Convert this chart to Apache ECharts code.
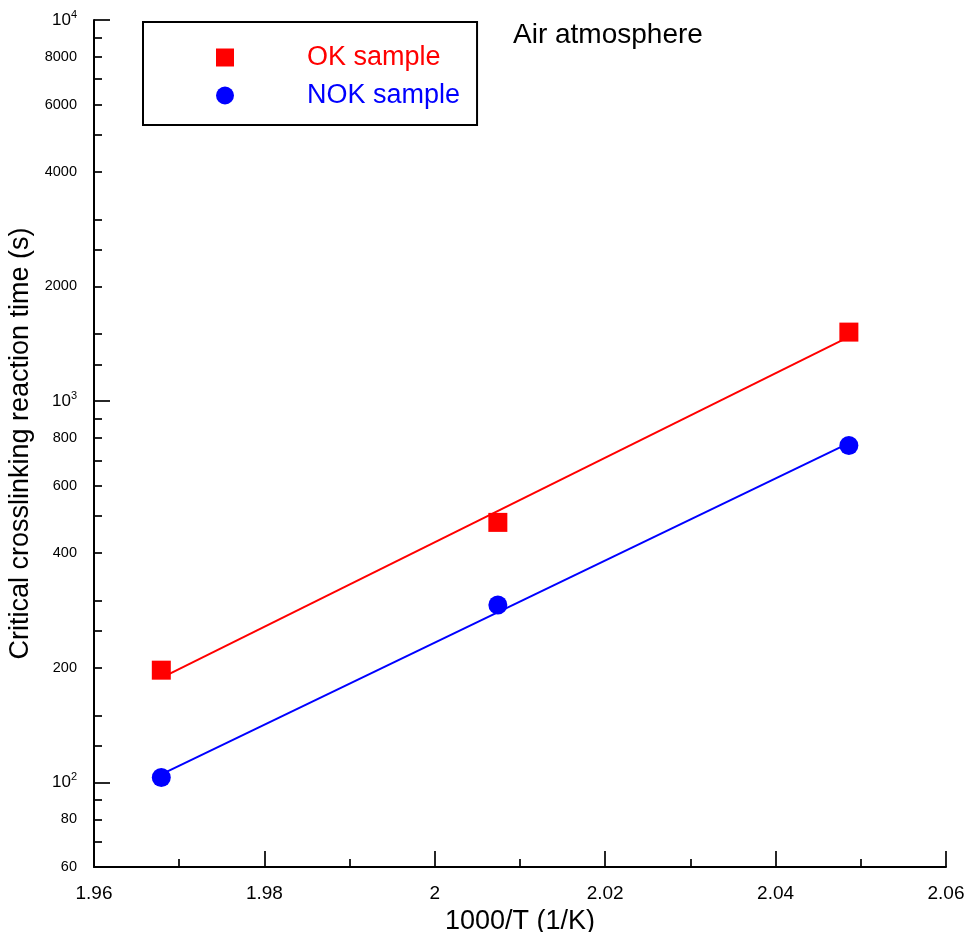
<!DOCTYPE html>
<html><head><meta charset="utf-8">
<script src="https://cdn.jsdelivr.net/npm/echarts@6/dist/echarts.min.js"></script>
<style>html,body{margin:0;padding:0;background:#fff}#c{width:966px;height:932px}</style>
</head><body><div id="c"></div>
<script>
// ---- data ----
const invT = [1.9679, 2.0074, 2.0486];
const okTime = [197, 481, 1518];
const nokTime = [103, 292, 765];
const fitInvT = [1.9679, 2.0486];
const okFit = [188, 1475];
const nokFit = [105, 776];
const yLabelValues = [60, 80, 100, 200, 400, 600, 800, 1000, 2000, 4000, 6000, 8000, 10000];
const yMajorTicks = [100, 1000, 10000];
const yMinorTicks = [70, 80, 90, 125, 150, 200, 250, 300, 400, 500, 600, 700, 800, 900,
  1250, 1500, 2000, 2500, 3000, 4000, 5000, 6000, 7000, 8000, 9000];
const seriesNames = ['OK sample', 'NOK sample'];
const xTitle = '1000/T (1/K)';
const yTitle = 'Critical crosslinking reaction time (s)';
const note = 'Air atmosphere';

const FONT = 'Liberation Sans, Arial, Helvetica, sans-serif';
const RED = '#ff0000', BLUE = '#0000ff';

function pair(xs, ys) { return xs.map((x, i) => [x, ys[i]]); }
function yFmt(v) {
  const e = Math.round(Math.log10(v));
  if (Math.abs(Math.pow(10, e) - v) < 1e-6) return '{b|10}{s|' + e + '}';
  return '{n|' + v + '}';
}

const chart = echarts.init(document.getElementById('c'), null, { renderer: 'canvas' });
const yCommon = {
  type: 'log', logBase: 10, min: 60, max: 10000, position: 'left',
  splitLine: { show: false }
};
chart.setOption({
  backgroundColor: '#fff',
  animation: false,
  textStyle: { fontFamily: FONT },
  title: {
    text: note, left: 513, top: 21, padding: 0,
    textStyle: { fontFamily: FONT, fontSize: 28, fontWeight: 'normal', color: '#000' }
  },
  legend: {
    orient: 'vertical', left: 143, top: 22,
    padding: [22, 17, 16, 73], itemGap: 11, itemWidth: 18, itemHeight: 18,
    borderColor: '#000', borderWidth: 2, backgroundColor: '#fff',
    data: [
      { name: seriesNames[0], icon: 'rect', textStyle: { color: RED } },
      { name: seriesNames[1], icon: 'circle', textStyle: { color: BLUE } }
    ],
    formatter: n => '{g| }{t|' + n + '}',
    textStyle: {
      fontFamily: FONT, fontSize: 27, lineHeight: 27,
      rich: { g: { width: 68, fontSize: 27 }, t: { fontSize: 27, fontFamily: FONT } }
    }
  },
  grid: { left: 94, right: 20, top: 20, bottom: 65, containLabel: false, outerBoundsMode: 'none' },
  xAxis: {
    type: 'value', min: 1.96, max: 2.06, interval: 0.02,
    name: xTitle, nameLocation: 'middle', nameGap: 38,
    nameTextStyle: { fontFamily: FONT, fontSize: 27, color: '#000' },
    axisLine: { show: true, lineStyle: { color: '#000', width: 2 } },
    axisTick: { show: true, inside: true, length: 16, lineStyle: { color: '#000', width: 1.7 } },
    minorTick: { show: true, splitNumber: 2, length: 8, lineStyle: { color: '#000', width: 1.7 } },
    axisLabel: { margin: 17, fontFamily: FONT, fontSize: 19, color: '#000',
      formatter: v => String(Math.round(v * 100) / 100) },
    splitLine: { show: false }, minorSplitLine: { show: false }
  },
  yAxis: [
    Object.assign({}, yCommon, {
      name: yTitle, nameLocation: 'middle', nameGap: 46, nameRotate: 90,
      nameTextStyle: { fontFamily: FONT, fontSize: 27, color: '#000' },
      axisLine: { show: true, lineStyle: { color: '#000', width: 2 } },
      axisTick: { show: true, inside: true, length: 16, customValues: yMajorTicks,
        lineStyle: { color: '#000', width: 1.7 } },
      axisLabel: { show: true, margin: 17, customValues: yLabelValues, formatter: yFmt,
        color: '#000', fontFamily: FONT, fontSize: 14,
        rich: {
          n: { fontSize: 14.5, fontFamily: FONT, color: '#000' },
          b: { fontSize: 17, fontFamily: FONT, color: '#000' },
          s: { fontSize: 11, fontFamily: FONT, color: '#000', padding: [0, 0, 10, 0] }
        } }
    }),
    Object.assign({}, yCommon, {
      axisLine: { show: false },
      axisTick: { show: true, inside: true, length: 8, customValues: yMinorTicks,
        lineStyle: { color: '#000', width: 1.7 } },
      axisLabel: { show: false }
    })
  ],
  series: [
    { name: 'OK fit', type: 'line', data: pair(fitInvT, okFit), showSymbol: false, symbol: 'none',
      lineStyle: { color: RED, width: 2 }, itemStyle: { color: RED }, z: 2 },
    { name: 'NOK fit', type: 'line', data: pair(fitInvT, nokFit), showSymbol: false, symbol: 'none',
      lineStyle: { color: BLUE, width: 2 }, itemStyle: { color: BLUE }, z: 2 },
    { name: seriesNames[0], type: 'scatter', data: pair(invT, okTime), symbol: 'rect', symbolSize: 19,
      itemStyle: { color: RED, opacity: 1 }, z: 5 },
    { name: seriesNames[1], type: 'scatter', data: pair(invT, nokTime), symbol: 'circle', symbolSize: 19,
      itemStyle: { color: BLUE, opacity: 1 }, z: 5 }
  ]
});
</script></body></html>
